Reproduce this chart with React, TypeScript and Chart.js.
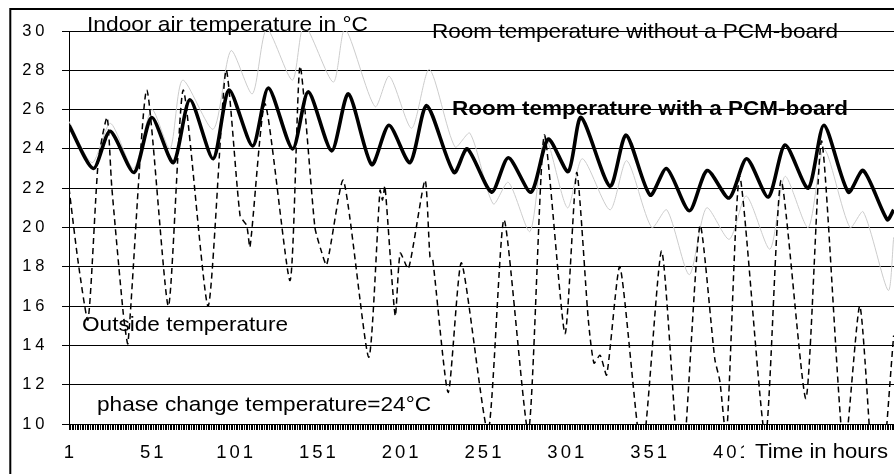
import React, { useEffect, useRef } from "react";
import { Chart, registerables } from "chart.js";

Chart.register(...registerables);

// ---- data (hour -> °C) ----
const pcmHours = [1, 15.7, 25.8, 40.3, 50.9, 64, 74, 88.1, 97.6, 111.9, 121.4, 136, 145.5, 159.6, 169.7, 183.8, 194.2, 206.9, 217, 233.5, 241.5, 256.2, 266.3, 280, 290.4, 302.5, 310.2, 327.7, 337.4, 351.9, 361.9, 375.6, 386.4, 399.6, 410.2, 423.3, 433.4, 447.4, 456.9, 471.6, 480.6, 495.1, 499];
const pcmTemps = [25.2, 23.0, 24.9, 22.8, 25.6, 23.3, 26.5, 23.5, 27.0, 24.15, 27.1, 24.0, 26.9, 23.9, 26.8, 23.2, 25.2, 23.3, 26.2, 22.8, 24.0, 21.8, 23.55, 21.8, 24.5, 22.85, 25.6, 22.1, 24.7, 21.65, 23.0, 20.85, 22.9, 21.5, 23.5, 21.55, 24.2, 22.0, 25.2, 21.8, 22.9, 20.4, 20.9];

const noPcmHours = [1, 15, 26, 40, 51, 62, 69.6, 88.1, 98.8, 111.7, 120.4, 135.9, 143, 160.6, 167.7, 185.8, 194.4, 207.9, 218.6, 234.1, 243.1, 257.2, 266.3, 279.4, 288.5, 302, 311, 327.7, 337.8, 352.9, 362, 375.6, 386, 399.7, 410, 424.3, 433.4, 447.4, 456.9, 472.6, 480.6, 495.7, 499];
const noPcmTemps = [25.4, 23.3, 25.3, 23.0, 26.0, 24.0, 27.5, 25.0, 29.0, 26.8, 30.1, 27.5, 30.3, 27.4, 30.1, 26.15, 27.7, 25.05, 28.05, 24.1, 24.8, 21.2, 22.3, 19.8, 24.6, 21.0, 23.5, 20.9, 23.4, 20.0, 20.9, 17.6, 21.0, 19.4, 21.6, 18.9, 22.6, 20.0, 24.0, 20.0, 20.8, 16.8, 19.5];

const outsideHours = [1, 6.6, 12.5, 18.7, 24, 26.8, 33.8, 36.6, 47.9, 61, 70, 85, 95.8, 104.3, 108.3, 110.3, 119.4, 134.5, 140.5, 149.5, 153, 156.6, 166.7, 182, 188.8, 190.3, 191.8, 198, 201, 206, 216, 219, 220.6, 230, 238, 254, 263.7, 278.4, 288, 300.5, 307.6, 314.6, 318, 321.7, 325.7, 333.7, 347, 358.9, 370.5, 382, 391, 394, 398, 406, 421.5, 431, 446, 455.5, 469, 478.6, 489, 499];
const outsideTemps = [22.0, 18.2, 15.3, 23.4, 25.6, 22.1, 15.6, 14.1, 27.0, 16.0, 27.0, 16.0, 28.0, 20.6, 20.1, 19.0, 26.3, 17.3, 28.2, 20.0, 18.9, 18.1, 22.4, 13.4, 21.9, 21.4, 22.1, 15.5, 18.7, 17.9, 22.4, 18.5, 18.4, 11.6, 18.2, 9.6, 20.4, 9.6, 24.7, 14.6, 22.8, 15.3, 13.1, 13.5, 12.5, 18.0, 8.5, 18.8, 7.0, 20.1, 13.3, 12.2, 9.3, 22.6, 9.3, 22.4, 11.3, 24.4, 8.5, 16.0, 5.0, 14.5];

const yTickValues = [10, 12, 14, 16, 18, 20, 22, 24, 26, 28, 30];
const xTickLabels = [1, 51, 101, 151, 201, 251, 301, 351, 401, 451];
const hourMin = 1;
const hourMax = 499.2;

const toPoints = (hs: number[], vs: number[]) => hs.map((h, i) => ({ x: h, y: vs[i] }));

const FONT = '"Liberation Sans", Arial, sans-serif';

const drawFit = (ctx: CanvasRenderingContext2D, text: string, left: number, baseline: number, width: number, font: string) => {
  ctx.save();
  ctx.font = font;
  (ctx as any).letterSpacing = "0px";
  const w = ctx.measureText(text).width;
  ctx.translate(left, baseline);
  ctx.scale(width / w, 1);
  ctx.textAlign = "left";
  ctx.textBaseline = "alphabetic";
  ctx.fillStyle = "#000";
  ctx.fillText(text, 0, 0);
  ctx.restore();
};

const overlayPlugin = {
  id: "overlay",
  afterDraw(chart: any) {
    const ctx: CanvasRenderingContext2D = chart.ctx;
    const xs = chart.scales.x;
    const ys = chart.scales.y;
    ctx.save();
    ctx.fillStyle = "#000";
    // y tick labels
    ctx.font = `16.5px ${FONT}`;
    (ctx as any).letterSpacing = "4px";
    ctx.textAlign = "right";
    ctx.textBaseline = "middle";
    yTickValues.forEach((v) => {
      ctx.fillText(String(v), 36.5 + 4, ys.getPixelForValue(v));
    });
    // x tick labels
    ctx.font = `18.5px ${FONT}`;
    (ctx as any).letterSpacing = "3px";
    ctx.textAlign = "center";
    xTickLabels.forEach((v) => {
      ctx.fillText(String(v), xs.getPixelForValue(v) + 1.5, 445);
    });
    (ctx as any).letterSpacing = "0px";
    // white box behind axis title
    ctx.fillStyle = "#fff";
    ctx.fillRect(736, 428, 150, 32);
    ctx.restore();

    drawFit(ctx, "Indoor air temperature in °C", 79, 23, 281, `21px ${FONT}`);
    drawFit(ctx, "Room temperature without a PCM-board", 424, 29.5, 406, `21px ${FONT}`);
    drawFit(ctx, "Room temperature with a PCM-board", 444, 107, 396, `bold 21px ${FONT}`);
    drawFit(ctx, "Outside temperature", 74, 323, 206, `21px ${FONT}`);
    drawFit(ctx, "phase change temperature=24°C", 89, 402.7, 334, `21px ${FONT}`);
    drawFit(ctx, "Time in hours", 747, 450.3, 133, `21px ${FONT}`);

    // outer frame (left and top edges visible)
    ctx.save();
    ctx.strokeStyle = "#000";
    ctx.lineWidth = 2;
    ctx.beginPath();
    ctx.moveTo(2.3, 466);
    ctx.lineTo(2.3, 1);
    ctx.lineTo(886, 1);
    ctx.stroke();
    ctx.restore();
  },
};

export default function App() {
  const ref = useRef<HTMLCanvasElement>(null);
  useEffect(() => {
    document.body.style.overflow = "hidden";
    const canvas = ref.current!;
    const chart = new Chart(canvas, {
      type: "line",
      data: {
        datasets: [
          {
            label: "Outside temperature",
            data: toPoints(outsideHours, outsideTemps),
            borderColor: "#000",
            borderWidth: 1.5,
            borderDash: [6, 4],
            pointRadius: 0,
            tension: 0.2,
            clip: 0,
            order: 0,
          },
          {
            label: "Room temperature with a PCM-board",
            data: toPoints(pcmHours, pcmTemps),
            borderColor: "#000",
            borderWidth: 3.6,
            pointRadius: 0,
            tension: 0.25,
            clip: 0,
            order: 1,
          },
          {
            label: "Room temperature without a PCM-board",
            data: toPoints(noPcmHours, noPcmTemps),
            borderColor: "#cccccc",
            borderWidth: 1,
            pointRadius: 0,
            tension: 0.25,
            clip: 0,
            order: 2,
          },
        ],
      } as any,
      options: {
        animation: false,
        responsive: true,
        maintainAspectRatio: false,
        layout: { padding: { top: 23, left: 0, right: 0, bottom: 0 } },
        plugins: { legend: { display: false }, tooltip: { enabled: false }, title: { display: false } },
        scales: {
          x: {
            type: "linear",
            min: hourMin,
            max: hourMax,
            afterBuildTicks: (axis: any) => {
              const t = [];
              for (let h = 1; h <= 499; h++) t.push({ value: h });
              axis.ticks = t;
            },
            afterFit: (s: any) => {
              s.height = 50;
            },
            ticks: { display: false },
            grid: { drawOnChartArea: false, drawTicks: true, tickLength: 6, color: "#000", lineWidth: 1 },
            border: { display: true, color: "#000", width: 1 },
          },
          y: {
            type: "linear",
            min: 10,
            max: 30,
            ticks: { display: false, stepSize: 2 },
            afterFit: (s: any) => {
              s.width = 61;
            },
            grid: { color: "#000", lineWidth: 1, tickLength: 7, drawTicks: true },
            border: { display: true, color: "#000", width: 1 },
          },
        },
      } as any,
      plugins: [overlayPlugin],
    });
    return () => chart.destroy();
  }, []);
  return (
    <div style={{ position: "fixed", left: 8, top: 8, width: 886, height: 466, background: "#fff" }}>
      <canvas ref={ref} />
    </div>
  );
}
